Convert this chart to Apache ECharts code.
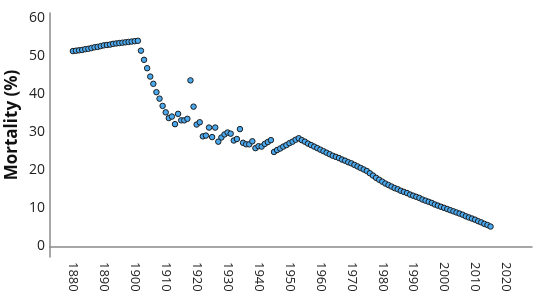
<!DOCTYPE html>
<html>
<head>
<meta charset="utf-8">
<script src="https://cdn.jsdelivr.net/npm/echarts@6/dist/echarts.min.js"></script>
<style>
  html, body { margin: 0; padding: 0; background: #fff; }
  #chart { width: 536px; height: 297px; }
</style>
</head>
<body>
<div id="chart"></div>
<script>
// years 1880..2015, one value per year
var startYear = 1880;
var mortality = [
  // 1880-1901
  51.3, 51.4, 51.5, 51.6, 51.8, 51.9, 52.1, 52.3, 52.4, 52.6, 52.8,
  52.9, 53.0, 53.2, 53.3, 53.4, 53.5, 53.6, 53.7, 53.8, 53.9, 54.0,
  // 1902-1921
  51.4, 49.0, 46.8, 44.6, 42.7, 40.5, 38.8, 36.9, 35.2, 33.7,
  34.1, 32.1, 34.8, 33.1, 33.1, 33.5, 43.6, 36.7, 32.0, 32.6,
  // 1922-1944
  28.9, 29.1, 31.2, 28.7, 31.2, 27.5, 28.6, 29.4, 29.9, 29.6,
  27.8, 28.2, 30.8, 27.2, 26.8, 26.8, 27.6, 25.8, 26.3, 26.2,
  26.9, 27.4, 27.9,
  // 1945-1952
  24.8, 25.3, 25.7, 26.2, 26.6, 27.1, 27.5, 28.0,
  // 1953-2015
  28.4, 27.9, 27.5, 27.0, 26.6, 26.2, 25.8, 25.4, 25.0, 24.6,
  24.2, 23.8, 23.5, 23.2, 22.8, 22.5, 22.1, 21.8, 21.4, 21.0,
  20.6, 20.2, 19.8, 19.2, 18.6, 18.0, 17.5, 17.0, 16.5, 16.1,
  15.7, 15.3, 15.0, 14.6, 14.3, 14.0, 13.6, 13.3, 13.0, 12.7,
  12.3, 12.0, 11.7, 11.4, 11.0, 10.7, 10.4, 10.1, 9.8, 9.5,
  9.2, 8.9, 8.6, 8.3, 7.9, 7.6, 7.3, 7.0, 6.6, 6.3,
  5.9, 5.6, 5.2
];
var xTicks = [1880, 1890, 1900, 1910, 1920, 1930, 1940, 1950, 1960, 1970, 1980, 1990, 2000, 2010, 2020];
var yTicks = [0, 10, 20, 30, 40, 50, 60];
var yTitle = 'Mortality (%)';

var points = mortality.map(function(v, i) { return [startYear + i, v]; });

var chart = echarts.init(document.getElementById('chart'), null, { renderer: 'canvas' });
var font = 'Open Sans';
var axisGray = '#8a8a8a';

chart.setOption({
  animation: false,
  grid: { left: 50, top: 13, right: 4, bottom: 40, containLabel: false, outerBoundsMode: 'none' },
  graphic: [{
    type: 'text',
    x: 12,
    y: 125,
    rotation: Math.PI / 2,
    style: {
      text: yTitle,
      fill: '#111',
      font: 'bold 17px "Open Sans"',
      align: 'center',
      verticalAlign: 'middle'
    }
  }],
  xAxis: {
    type: 'value',
    min: 1872.6,
    max: 2028.4,
    axisLine: { show: true, lineStyle: { color: axisGray, width: 1.5 } },
    axisTick: { show: false },
    splitLine: { show: false },
    axisLabel: {
      customValues: xTicks,
      formatter: function(v) { return String(v); },
      rotate: -90,
      margin: 5,
      color: '#222',
      fontFamily: font,
      fontSize: 13
    }
  },
  yAxis: {
    type: 'value',
    min: -2.8,
    max: 61.3,
    axisLine: { show: true, lineStyle: { color: axisGray, width: 1.5 } },
    axisTick: { show: false },
    splitLine: { show: false },
    axisLabel: {
      customValues: yTicks,
      margin: 5,
      color: '#222',
      fontFamily: font,
      fontSize: 14
    }
  },
  series: [{
    type: 'scatter',
    data: points,
    symbol: 'circle',
    symbolSize: 5.5,
    itemStyle: { color: '#4aa8ee', borderColor: '#1c1c1c', borderWidth: 1, opacity: 1 }
  }]
});
</script>
</body>
</html>
